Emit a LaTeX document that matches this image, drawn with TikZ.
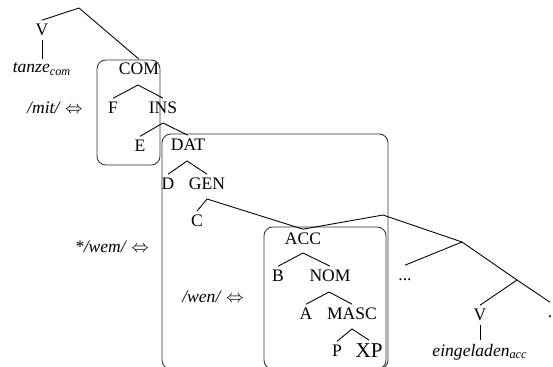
\documentclass[tikz,border=0pt]{standalone}
\usepackage{fontspec}
\setmainfont{Liberation Serif}
\begin{document}
\begin{tikzpicture}[x=0.02cm,y=-0.02cm,line width=0.5pt,
    every node/.style={inner sep=2pt},
    box/.style={draw=black!80,rounded corners=5pt}]
  \useasboundingbox (0,0) rectangle (553,366);
  \clip (0,0) rectangle (553,366);
  % spans
  \draw[box] (97,60) rectangle (160,165);
  \draw[box] (162,134) rectangle (388,369);
  \draw[box] (264,227) rectangle (386,369);
  % nodes
  \draw
    (42,30) node (v1){V}
    (42,69) node (tanze){\textit{tanze\textsubscript{com}}}
    (55,108) node (mit){\textit{/mit/} $\Leftrightarrow$}
    (139,69) node (com){COM}
    (113,108) node (f){F}
    (163,108) node (ins){INS}
    (140,146) node (e){E}
    (188,145) node (dat){DAT}
    (168,184) node (d){D}
    (207,184) node (gen){GEN}
    (197,221) node (c){C}
    (112,247) node (wem){\textit{*/wem/} $\Leftrightarrow$}
    (303,239) node (acc){ACC}
    (278,276) node (b){B}
    (330,276) node (nom){NOM}
    (213,297) node (wen){\textit{/wen/} $\Leftrightarrow$}
    (306,314) node (a){A}
    (352,314) node (masc){MASC}
    (337,351) node (p){P}
    (369,351) node (xp){\large XP}
    (405,275) node (dots){\vphantom{V}...}
    (480,315) node (v2){V}
    (480,352) node (eing){\textit{eingeladen\textsubscript{acc}}}
    (550,312) node (stop){\vphantom{V}.};
  \coordinate (top) at (79,8);
  \coordinate (comapex) at (138,85);
  \coordinate (insapex) at (163,123);
  \coordinate (datapex) at (187,161);
  \coordinate (genapex) at (207,199);
  \coordinate (accapex) at (303,253);
  \coordinate (nomapex) at (329,292);
  \coordinate (mascapex) at (352,329);
  \coordinate (rightapex) at (383,215);
  \coordinate (dotsapex) at (462,242);
  \coordinate (vapex) at (517,280);
  % branches
  \begin{scope}[-]
    \draw (v1.north) -- (top) -- (com.north);
    \draw (v1.south) -- (tanze.north);
    \draw (f.north) -- (comapex) -- (ins.north);
    \draw (e.north) -- (insapex) -- (dat.north);
    \draw (d.north) -- (datapex) -- (gen.north);
    \draw (c.north) -- (genapex) -- (acc.north);
    \draw (acc.north) -- (rightapex) -- (dotsapex);
    \draw (dots.north) -- (dotsapex) -- (vapex);
    \draw (v2.north) -- (vapex) -- (stop.north);
    \draw (v2.south) -- (eing.north);
    \draw (b.north) -- (accapex) -- (nom.north);
    \draw (a.north) -- (nomapex) -- (masc.north);
    \draw (p.north) -- (mascapex) -- (xp.north);
  \end{scope}
\end{tikzpicture}
\end{document}
